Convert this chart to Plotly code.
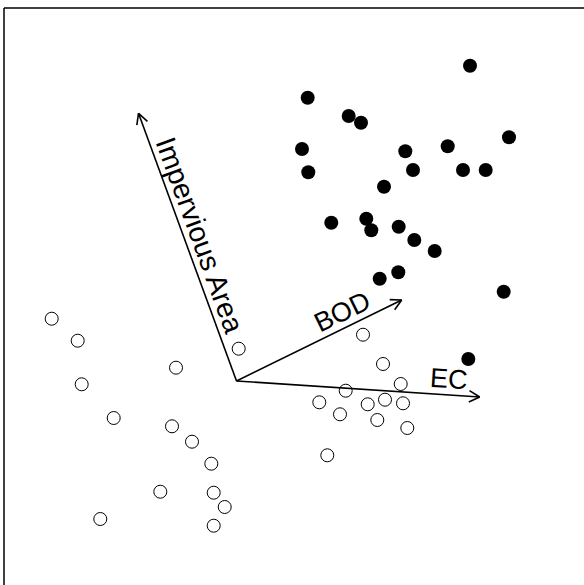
import math
import plotly.graph_objects as go

# Filled points (group 1) - positions
filled_x = [470, 307.7, 348.7, 361, 302, 405.3, 447.7, 509, 308.3, 413, 463, 485.7,
            384, 331.3, 366.3, 371.3, 398.7, 414.3, 434.7, 379.7, 398.3, 503.7, 468.3]
filled_y = [65.7, 97.7, 116, 122.7, 149, 151.3, 146.3, 137.3, 172.3, 170, 170, 170,
            186.7, 222.7, 218.7, 230.3, 226.7, 240, 251, 278.7, 272.3, 291.7, 359]

# Open points (group 2)
open_x = [51.7, 77.7, 81.7, 176, 238.7, 113.7, 172, 192, 211.3, 160.3, 213.7, 224.7,
          100.3, 213.7, 363, 383, 400.7, 345.7, 319.3, 340, 367.7, 385, 403, 377.3,
          407.3, 327.3]
open_y = [318.7, 340.7, 384.3, 367.7, 348.7, 418, 426.3, 441.7, 463.7, 491.7, 492.7, 507,
          519, 525.7, 334.7, 364, 384, 390.7, 402.3, 414.3, 404.3, 399.7, 403.3, 420,
          428, 455.3]

# Arrows (variable loadings)
origin = (236.5, 381)
arrow_names = ["Impervious Area", "BOD", "EC"]
arrow_tip_x = [138.5, 401.7, 479.7]
arrow_tip_y = [113.3, 300, 397]
label_x = [200, 342, 449]
label_y = [235, 312, 379]
label_size = [28.5, 27, 27]

fig = go.Figure()

fig.add_trace(go.Scatter(
    x=open_x, y=open_y, mode="markers",
    marker=dict(size=13, color="white", line=dict(color="black", width=1)),
    showlegend=False, hoverinfo="skip"))

fig.add_trace(go.Scatter(
    x=filled_x, y=filled_y, mode="markers",
    marker=dict(size=14, color="black", line=dict(color="black", width=0)),
    showlegend=False, hoverinfo="skip"))

ox, oy = origin
head_len = 12
head_ang = math.radians(28)
for name, tx, ty, lx, ly, fs in zip(arrow_names, arrow_tip_x, arrow_tip_y,
                                    label_x, label_y, label_size):
    dx, dy = tx - ox, ty - oy
    ang = math.atan2(dy, dx)
    xs = [ox, tx, None]
    ys = [oy, ty, None]
    for s in (1, -1):
        a = ang + math.pi + s * head_ang
        xs += [tx, tx + head_len * math.cos(a), None]
        ys += [ty, ty + head_len * math.sin(a), None]
    fig.add_trace(go.Scatter(x=xs, y=ys, mode="lines",
                             line=dict(color="black", width=1.6),
                             showlegend=False, hoverinfo="skip"))
    tang = math.degrees(ang)
    if name == "Impervious Area":
        tang = tang + 180  # text reads from tip toward origin
    fig.add_annotation(x=lx, y=ly, text=name, showarrow=False,
                       textangle=tang, xanchor="center", yanchor="middle",
                       font=dict(family="Liberation Sans, Arial, sans-serif", size=fs, color="black"))

# frame lines (top and left)
fig.add_shape(type="line", xref="x", yref="y", x0=4, y0=8, x1=584, y1=8,
              line=dict(color="black", width=1.5))
fig.add_shape(type="line", xref="x", yref="y", x0=4, y0=8, x1=4, y1=585,
              line=dict(color="black", width=1.5))

fig.update_layout(
    width=584, height=585, autosize=False,
    margin=dict(l=0, r=0, t=0, b=0),
    paper_bgcolor="white", plot_bgcolor="white",
    xaxis=dict(range=[0, 584], visible=False, fixedrange=True),
    yaxis=dict(range=[585, 0], visible=False, fixedrange=True),
)

fig.write_html("out.html", config={"displayModeBar": False, "staticPlot": True},
               post_script="document.body.style.margin='0';document.body.style.overflow='hidden';")
